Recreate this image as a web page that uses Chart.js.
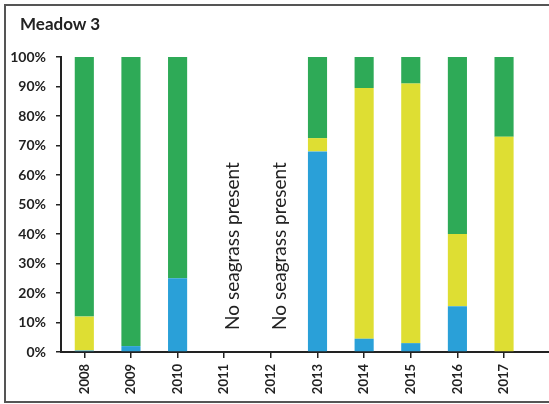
<!DOCTYPE html>
<html>
<head>
<meta charset="utf-8">
<script src="https://cdn.jsdelivr.net/npm/chart.js@4"></script>
<style>
  html, body { margin: 0; padding: 0; background: #fff; overflow: hidden; }
  #wrap { position: relative; width: 549px; height: 404px; overflow: hidden; }
  #frame { position: absolute; left: 4px; top: 4px; width: 600px; height: 395px; border: 2px solid #555; border-right: none; }
  #title { position: absolute; left: 20px; top: 13px; font: bold 17px Lato, sans-serif; color: #222; }
  #box { position: absolute; left: 0; top: 0; width: 574px; height: 404px; }
</style>
</head>
<body>
<div id="wrap">
  <div id="frame"></div>
  <div id="box"><canvas id="myChart"></canvas></div>
  <div id="title">Meadow 3</div>
</div>
<script>
// last label is blank: the original axis runs on past 2017 and is cut off
const years = ['2008', '2009', '2010', '2011', '2012', '2013', '2014', '2015', '2016', '2017', ''];
const blue   = [0.5, 2, 25, null, null, 68, 4.5, 3, 15.5, 0, null];
const yellow = [11.5, 0, 0, null, null, 4.5, 85, 88, 24.5, 73, null];
const green  = [88, 98, 75, null, null, 27.5, 10.5, 9, 60, 27, null];
const notes  = ['', '', '', 'No seagrass present', 'No seagrass present', '', '', '', '', '', ''];

// writes the "No seagrass present" notes up the empty columns
const notePlugin = {
    id: 'notes',
    afterDatasetsDraw(chart) {
        const ctx = chart.ctx;
        const x = chart.scales.x;
        const y = chart.scales.y;
        ctx.save();
        ctx.font = '19px Lato, sans-serif';
        ctx.fillStyle = '#222';
        ctx.textAlign = 'left';
        ctx.textBaseline = 'middle';
        notes.forEach((txt, i) => {
            if (!txt) return;
            ctx.save();
            ctx.translate(x.getPixelForValue(i) + 9, y.getPixelForValue(7.5));
            ctx.rotate(-Math.PI / 2);
            ctx.fillText(txt, 0, 0);
            ctx.restore();
        });
        ctx.restore();
    }
};

const ctx = document.getElementById('myChart').getContext('2d');
const myChart = new Chart(ctx, {
    type: 'bar',
    data: {
        labels: years,
        datasets: [
            { label: 'blue', data: blue, backgroundColor: '#2aa0d8' },
            { label: 'yellow', data: yellow, backgroundColor: '#dede33' },
            { label: 'green', data: green, backgroundColor: '#2eaa57' }
        ]
    },
    options: {
        responsive: true,
        maintainAspectRatio: false,
        animation: false,
        layout: { padding: { top: 57, left: 0, right: 0, bottom: 0 } },
        datasets: {
            bar: { categoryPercentage: 1, barPercentage: 0.41, borderWidth: 0 }
        },
        plugins: {
            legend: { display: false },
            tooltip: { enabled: false }
        },
        scales: {
            x: {
                stacked: true,
                grid: { offset: false, drawOnChartArea: false, tickLength: 6, color: '#222', lineWidth: 1.5 },
                border: { color: '#222', width: 2 },
                ticks: { font: { family: 'Lato, sans-serif', size: 13, weight: 'bold' }, color: '#222',
                         minRotation: 90, maxRotation: 90, autoSkip: false, padding: 6 },
                afterFit(scale) { scale.height = 52; }
            },
            y: {
                stacked: true,
                min: 0,
                max: 100,
                grid: { drawOnChartArea: false, tickLength: 5, color: '#222', lineWidth: 1.5 },
                border: { color: '#222', width: 2 },
                ticks: { font: { family: 'Lato, sans-serif', size: 14, weight: 'bold' }, color: '#222',
                         stepSize: 10, padding: 10, callback: v => v + '%' },
                afterFit(scale) { scale.width = 61; }
            }
        }
    },
    plugins: [notePlugin]
});
</script>
</body>
</html>
